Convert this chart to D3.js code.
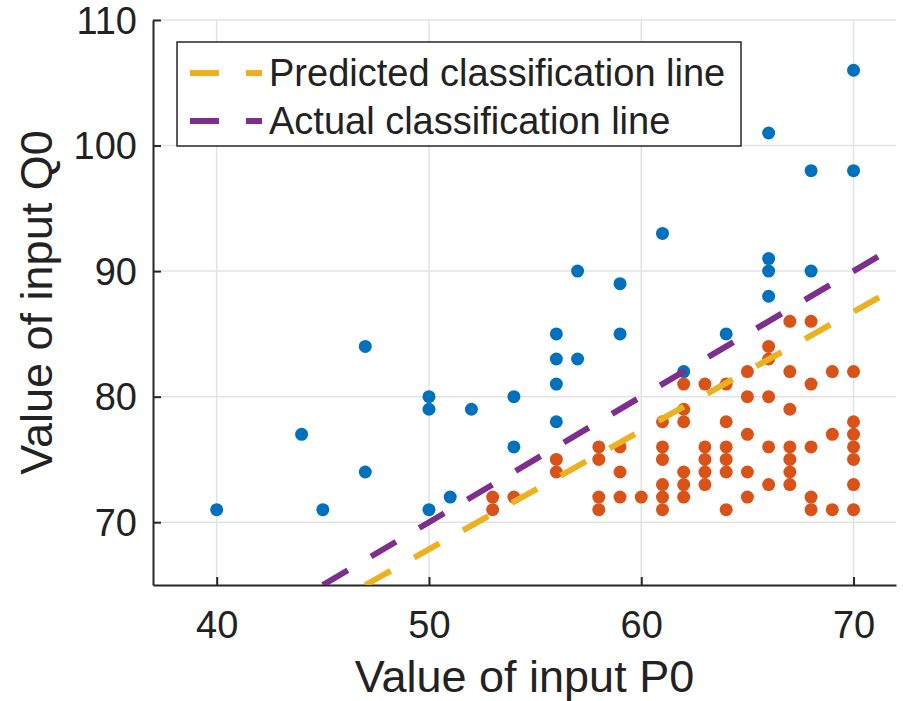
<!DOCTYPE html>
<html>
<head>
<meta charset="utf-8">
<script src="https://cdn.jsdelivr.net/npm/d3@7"></script>
<style>
  body { margin: 0; background: #fff; }
  svg { display: block; font-family: "Liberation Sans", Arial, sans-serif; }
</style>
</head>
<body>
<svg id="chart"></svg>
<script>
// class 1 points (blue)
const aboveP = [40, 44, 45, 47, 47, 50, 50, 50, 51, 52, 54, 54, 56, 56, 56, 56, 57, 57, 59, 59, 61, 62, 64, 66, 66, 66, 66, 68, 68, 70, 70];
const aboveQ = [71, 77, 71, 84, 74, 80, 79, 71, 72, 79, 80, 76, 85, 83, 81, 78, 90, 83, 89, 85, 93, 82, 85, 101, 91, 90, 88, 98, 90, 106, 98];

// class 2 points (orange)
const belowP = [53, 53, 54, 56, 56, 58, 58, 58, 58, 59, 59, 59, 60,
  61, 61, 61, 61, 61, 61,
  62, 62, 62, 62, 62, 62,
  63, 63, 63, 63, 63,
  64, 64, 64, 64, 64, 64,
  65, 65, 65, 65, 65,
  66, 66, 66, 66, 66,
  67, 67, 67, 67, 67, 67, 67,
  68, 68, 68, 68, 68,
  69, 69, 69,
  70, 70, 70, 70, 70, 70, 70];
const belowQ = [72, 71, 72, 75, 74, 76, 75, 72, 71, 76, 74, 72, 72,
  78, 76, 75, 73, 72, 71,
  81, 79, 78, 74, 73, 72,
  81, 76, 75, 74, 73,
  81, 78, 76, 75, 74, 71,
  82, 80, 77, 74, 72,
  84, 83, 80, 76, 73,
  86, 82, 79, 76, 75, 74, 73,
  86, 81, 76, 72, 71,
  82, 77, 71,
  82, 78, 77, 76, 75, 73, 71];

// classification lines (end points)
const predictedP = [47, 71.2];
const predictedQ = [65, 87.9];
const actualP = [45, 71.2];
const actualQ = [65, 91.2];

const legendLabels = ["Predicted classification line", "Actual classification line"];
const xTicks = [40, 50, 60, 70];
const yTicks = [70, 80, 90, 100, 110];

const width = 903;
const height = 701;
const margin = { left: 153, right: 7, top: 20, bottom: 116 };

const svg = d3.select("#chart")
  .attr("width", width)
  .attr("height", height);

const x = d3.scaleLinear().domain([37, 72]).range([margin.left, width - margin.right]);
const y = d3.scaleLinear().domain([65, 110]).range([height - margin.bottom, margin.top]);

const textColor = "#222";
const axisColor = "#262626";

svg.append("defs").append("clipPath").attr("id", "plotClip")
  .append("rect")
  .attr("x", x(37)).attr("y", y(110))
  .attr("width", x(72) - x(37)).attr("height", y(65) - y(110));

// grid
const grid = svg.append("g");
grid.selectAll(".gx").data(xTicks).join("line")
  .attr("x1", d => x(d)).attr("x2", d => x(d))
  .attr("y1", y(65)).attr("y2", y(110))
  .attr("stroke", "#e3e3e3").attr("stroke-width", 1.5);
grid.selectAll(".gy").data(yTicks).join("line")
  .attr("x1", x(37)).attr("x2", x(72))
  .attr("y1", d => y(d)).attr("y2", d => y(d))
  .attr("stroke", "#e3e3e3").attr("stroke-width", 1.5);

// axes, ticks inside
const xAxis = svg.append("g")
  .attr("transform", `translate(0,${y(65)})`)
  .call(d3.axisBottom(x).tickValues(xTicks).tickSizeInner(-8).tickSizeOuter(0).tickPadding(0));
const yAxis = svg.append("g")
  .attr("transform", `translate(${x(37)},0)`)
  .call(d3.axisLeft(y).tickValues(yTicks).tickSizeInner(-8).tickSizeOuter(0).tickPadding(0));

[xAxis, yAxis].forEach(g => {
  g.select(".domain").attr("stroke", axisColor).attr("stroke-width", 2);
  g.selectAll(".tick line").attr("stroke", axisColor).attr("stroke-width", 2);
  g.selectAll(".tick text")
    .attr("fill", textColor)
    .style("font-size", "38px")
    .style("font-family", "'Liberation Sans', Arial, sans-serif");
});
xAxis.selectAll(".tick text").attr("y", 53).attr("dy", 0);
yAxis.selectAll(".tick text").attr("x", -16).attr("dy", "0.35em");

// points
const plot = svg.append("g").attr("clip-path", "url(#plotClip)");

plot.selectAll(".above").data(d3.range(aboveP.length)).join("circle")
  .attr("cx", i => x(aboveP[i]))
  .attr("cy", i => y(aboveQ[i]))
  .attr("r", 6.5)
  .attr("fill", "#0072BD");

plot.selectAll(".below").data(d3.range(belowP.length)).join("circle")
  .attr("cx", i => x(belowP[i]))
  .attr("cy", i => y(belowQ[i]))
  .attr("r", 6.5)
  .attr("fill", "#D95319");

// dashed lines
const line = d3.line().x(d => x(d[0])).y(d => y(d[1]));
const dash = "29 27";

plot.append("path")
  .attr("d", line(d3.zip(predictedP, predictedQ)))
  .attr("fill", "none")
  .attr("stroke", "#EDB120")
  .attr("stroke-width", 6)
  .attr("stroke-dasharray", dash);

plot.append("path")
  .attr("d", line(d3.zip(actualP, actualQ)))
  .attr("fill", "none")
  .attr("stroke", "#7E2F8E")
  .attr("stroke-width", 6)
  .attr("stroke-dasharray", dash);

// legend
const legend = svg.append("g");
legend.append("rect")
  .attr("x", 177).attr("y", 42)
  .attr("width", 564).attr("height", 104)
  .attr("fill", "#fff")
  .attr("stroke", axisColor)
  .attr("stroke-width", 1.5);

const legendColors = ["#EDB120", "#7E2F8E"];
legendLabels.forEach((label, i) => {
  const ly = 73 + i * 48;
  legend.append("line")
    .attr("x1", 190).attr("x2", 262)
    .attr("y1", ly).attr("y2", ly)
    .attr("stroke", legendColors[i])
    .attr("stroke-width", 6)
    .attr("stroke-dasharray", dash);
  legend.append("text")
    .attr("x", 269).attr("y", ly)
    .attr("dy", "0.35em")
    .attr("fill", textColor)
    .style("font-size", "38px")
    .text(label);
});

// axis labels
svg.append("text")
  .attr("x", (x(37) + x(72)) / 2)
  .attr("y", 692)
  .attr("text-anchor", "middle")
  .attr("fill", textColor)
  .style("font-size", "45px")
  .text("Value of input P0");

svg.append("text")
  .attr("transform", `translate(52,${(y(65) + y(110)) / 2}) rotate(-90)`)
  .attr("text-anchor", "middle")
  .attr("fill", textColor)
  .style("font-size", "45px")
  .text("Value of input Q0");
</script>
</body>
</html>
